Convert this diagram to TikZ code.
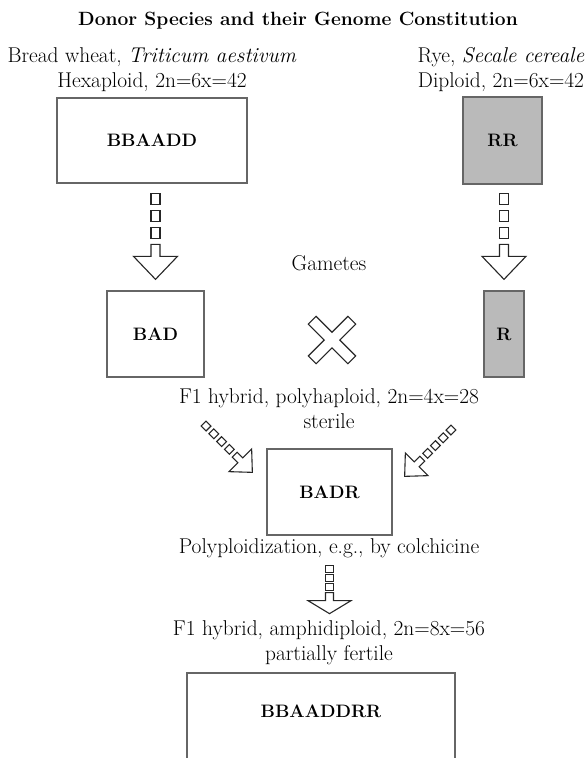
\documentclass[tikz,border=0pt]{standalone}
\usepackage{tikz}

\tikzset{
  nsq/.store in=\nsq, sql/.store in=\sql, sqw/.store in=\sqw, sqgap/.store in=\sqgap,
  shl/.store in=\shl, shw/.store in=\shw, hdl/.store in=\hdl, hdw/.store in=\hdw,
  nsq=3, sql=11, sqw=4.5, sqgap=6, shl=12, shw=4.5, hdl=23, hdw=22,
  gam/.pic={
    \draw[hollow] (0,0) -- (-\hdl,\hdw) -- (-\hdl,\shw) -- ({-\hdl-\shl},\shw)
      -- ({-\hdl-\shl},-\shw) -- (-\hdl,-\shw) -- (-\hdl,-\hdw) -- cycle;
    \foreach \i in {1,...,\nsq}
      \draw[hollow] ({-\hdl-\shl-\i*(\sqgap+\sql)},-\sqw) rectangle ++(\sql,2*\sqw);
  }
}

\begin{document}
\begin{tikzpicture}[x=1pt, y=1pt,
   font=\fontsize{21.4}{25}\selectfont,
   box/.style={draw=black!60, line width=1.3pt, inner sep=0pt,
     font=\fontsize{18}{20}\selectfont\bfseries},
   rye/.style={box, fill=black!27},
   txt/.style={anchor=base, align=center},
   hollow/.style={draw=black!85, fill=white, line width=1.1pt},
   onpath/.style={pos=1, sloped, allow upside down},
   small/.style={nsq=4, sql=7, sqw=3.5, sqgap=4, shl=8, shw=3.5, hdl=17, hdw=16}]
\useasboundingbox (0,0) rectangle (587,-758);
\node[anchor=base, font=\fontsize{19.2}{22}\selectfont\bfseries] (title) at (298,-25) {Donor Species and their Genome Constitution};
% base of a two-line node is its last line
\node[txt] (wheat) at (152,-87) {Bread wheat, \textit{Triticum aestivum}\\Hexaploid, 2n=6x=42};
\node[txt] (rye) at (501,-87) {Rye, \textit{Secale cereale}\\Diploid, 2n=6x=42};
\node[box, minimum width=190, minimum height=85] (BBAADD) at (152,-140.5) {BBAADD};
\node[rye, minimum width=79, minimum height=87] (RR) at (502.5,-140.5) {RR};
\node[txt] (gametes) at (329,-270) {Gametes};
\node[box, minimum width=97, minimum height=86] (BAD) at (155.5,-334) {BAD};
\node[rye, minimum width=40, minimum height=86] (R) at (504,-334) {R};
\coordinate (cross) at (332,-340);
\node[txt] (poly) at (329,-428) {F1 hybrid, polyhaploid, 2n=4x=28\\sterile};
\node[box, minimum width=125, minimum height=86] (BADR) at (329.5,-492) {BADR};
\node[txt] (colch) at (329,-553) {Polyploidization, e.g., by colchicine};
\node[txt] (amphi) at (329,-660) {F1 hybrid, amphidiploid, 2n=8x=56\\partially fertile};
\node[box, minimum width=268, minimum height=100, text depth=24pt] (BBAADDRR) at (321,-723) {BBAADDRR};

% gametes
\path (BAD.north |- BBAADD.south) -- ([yshift=11pt]BAD.north) pic[onpath] {gam};
\path (R.north |- RR.south) -- ([yshift=11pt]R.north) pic[onpath] {gam};
% crossing
\draw[hollow, shift={(cross)}, rotate=45] (5.5,5.5) -- (28,5.5) -- (28,-5.5) -- (5.5,-5.5)
  -- (5.5,-28) -- (-5.5,-28) -- (-5.5,-5.5) -- (-28,-5.5) -- (-28,5.5) -- (-5.5,5.5)
  -- (-5.5,28) -- (5.5,28) -- cycle;
\path ([shift={(-64,26)}]BADR.north west) -- ([shift={(-14,-24)}]BADR.north west) pic[onpath, small] {gam};
\path ([shift={(64,24)}]BADR.north east) -- ([shift={(12,-28)}]BADR.north east) pic[onpath, small] {gam};
% doubling
\path (BADR.south) -- ([yshift=-78pt]BADR.south) pic[onpath, sql=7, sqw=4, sqgap=2, shl=8, shw=4, hdl=13, hdw=21.5] {gam};
\end{tikzpicture}
\end{document}
